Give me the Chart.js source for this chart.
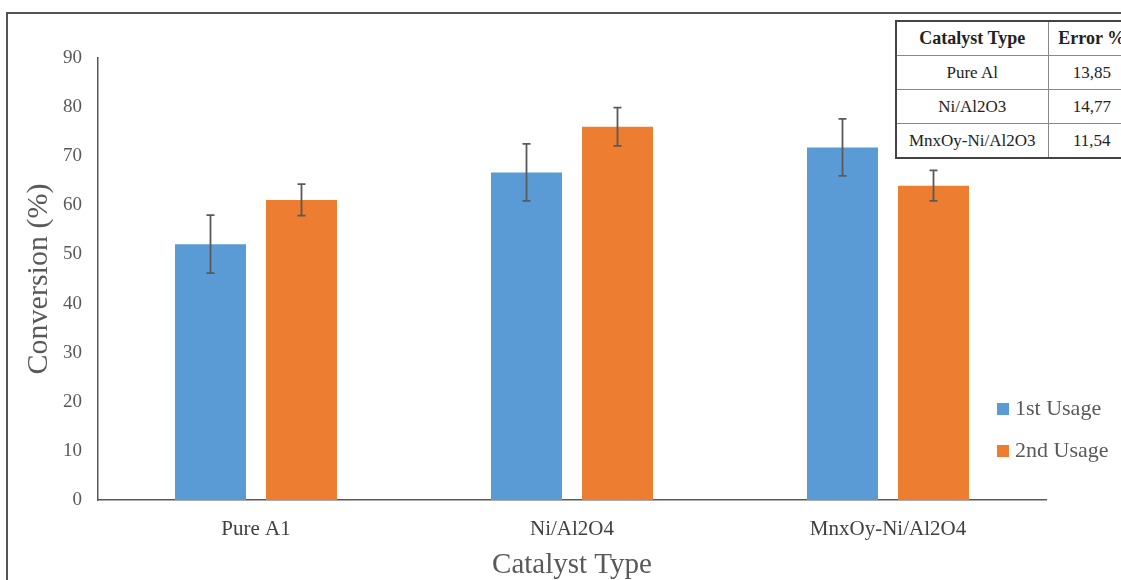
<!DOCTYPE html>
<html>
<head>
<meta charset="utf-8">
<script src="https://cdn.jsdelivr.net/npm/chart.js@4.4.1/dist/chart.umd.min.js"></script>
<style>
  html, body { margin: 0; padding: 0; overflow: hidden; background: #fff; }
  #wrap { position: relative; width: 1121px; height: 580px; overflow: hidden; }
  #frame { position: absolute; left: 6px; top: 12px; width: 1200px; height: 700px;
           border-top: 2px solid #555; border-left: 2px solid #555; pointer-events: none; }
  #box { position: absolute; left: 0; top: 0; width: 1121px; height: 580px; }
  #errTable { position: absolute; left: 895px; top: 20px; width: 240px; border-collapse: collapse;
              background: #fff; border: 2px solid #444; font-family: "Liberation Serif", serif;
              font-size: 17px; color: #222; table-layout: fixed; }
  #errTable td, #errTable th { border: 1px solid #888; text-align: center; height: 33px; padding: 0;
                               white-space: nowrap; }
  #errTable th { font-weight: bold; font-size: 18px; }
</style>
</head>
<body>
<div id="wrap">
  <div id="box"><canvas id="myChart"></canvas></div>
  <div id="frame"></div>
  <table id="errTable"><colgroup><col style="width:152px"><col style="width:88px"></colgroup><tbody id="errBody"></tbody></table>
</div>
<script>
const categories = ['Pure A1', 'Ni/Al2O4', 'MnxOy-Ni/Al2O4'];
const firstUsage = [52.1, 66.7, 71.8];
const secondUsage = [61.1, 76.0, 64.0];
const firstErr = [5.9, 5.8, 5.8];
const secondErr = [3.2, 3.9, 3.1];

const tableHead = ['Catalyst Type', 'Error %'];
const tableCatalysts = ['Pure Al', 'Ni/Al2O3', 'MnxOy-Ni/Al2O3'];
const tableErrors = ['13,85', '14,77', '11,54'];

// build the small error table
const tbody = document.getElementById('errBody');
let html = '<tr><th>' + tableHead[0] + '</th><th>' + tableHead[1] + '</th></tr>';
tableCatalysts.forEach((c, i) => {
    html += '<tr><td>' + c + '</td><td>' + tableErrors[i] + '</td></tr>';
});
tbody.innerHTML = html;

Chart.defaults.font.family = '"Liberation Serif", "Times New Roman", serif';
Chart.defaults.color = '#595959';

const errorBars = {
    id: 'errorBars',
    afterDatasetsDraw(chart) {
        const c = chart.ctx;
        const y = chart.scales.y;
        chart.data.datasets.forEach((ds, i) => {
            const meta = chart.getDatasetMeta(i);
            meta.data.forEach((bar, j) => {
                const v = ds.data[j], e = ds.errors[j];
                const top = y.getPixelForValue(v + e);
                const bot = y.getPixelForValue(v - e);
                c.save();
                c.strokeStyle = '#595959';
                c.lineWidth = 1.8;
                c.beginPath();
                c.moveTo(bar.x, top); c.lineTo(bar.x, bot);
                c.moveTo(bar.x - 4, top); c.lineTo(bar.x + 4, top);
                c.moveTo(bar.x - 4, bot); c.lineTo(bar.x + 4, bot);
                c.stroke();
                c.restore();
            });
        });
    }
};

const sideLegend = {
    id: 'sideLegend',
    afterDraw(chart) {
        const c = chart.ctx;
        const rows = [409, 451];
        c.save();
        c.font = '22px "Liberation Serif", serif';
        c.textBaseline = 'middle';
        chart.data.datasets.forEach((ds, i) => {
            c.fillStyle = ds.backgroundColor;
            c.fillRect(997, rows[i] - 6, 12, 12);
            c.fillStyle = '#595959';
            c.fillText(ds.label, 1015, rows[i]);
        });
        c.restore();
    }
};

const ctx = document.getElementById('myChart').getContext('2d');
const myChart = new Chart(ctx, {
    type: 'bar',
    data: {
        labels: categories,
        datasets: [{
            label: '1st Usage',
            data: firstUsage,
            errors: firstErr,
            backgroundColor: '#5B9BD5'
        }, {
            label: '2nd Usage',
            data: secondUsage,
            errors: secondErr,
            backgroundColor: '#ED7D31'
        }]
    },
    options: {
        responsive: true,
        maintainAspectRatio: false,
        animation: false,
        layout: { padding: { top: 58, right: 75, bottom: 0, left: 0 } },
        datasets: { bar: { categoryPercentage: 0.576, barPercentage: 0.78 } },
        plugins: { legend: { display: false }, tooltip: { enabled: false } },
        scales: {
            x: {
                grid: { display: false, drawTicks: false },
                border: { display: true, color: '#595959', width: 1.5 },
                ticks: { font: { size: 21 }, padding: 17, color: '#404040' },
                title: { display: true, text: 'Catalyst Type', font: { size: 29 }, padding: { top: 0, bottom: -3 } },
                afterFit: s => { s.height = 80; }
            },
            y: {
                min: 0,
                max: 90,
                grid: { display: false, drawTicks: false },
                border: { display: true, color: '#595959', width: 1.5 },
                ticks: { stepSize: 10, font: { size: 19 }, padding: 16 },
                title: { display: true, text: 'Conversion (%)', font: { size: 30 }, padding: { top: 21, bottom: 0 } },
                afterFit: s => { s.width = 98; }
            }
        }
    },
    plugins: [errorBars, sideLegend]
});
</script>
</body>
</html>
